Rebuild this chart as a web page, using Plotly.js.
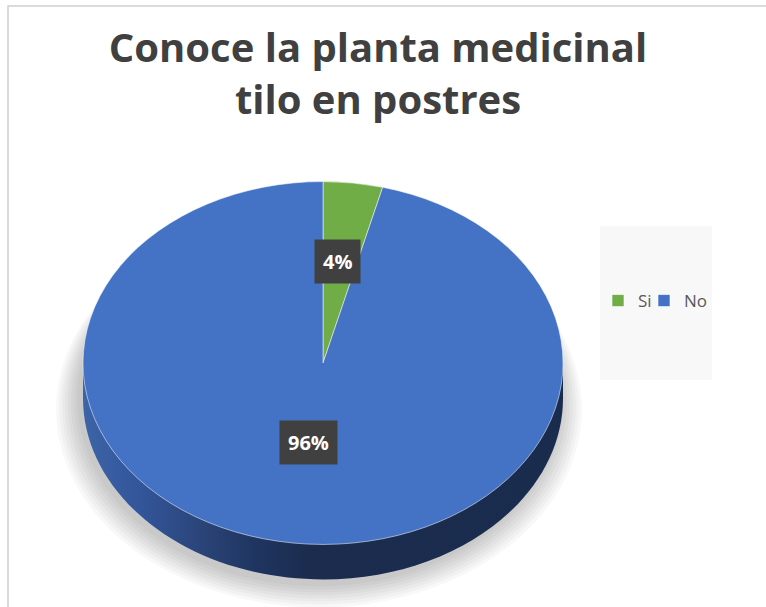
<!DOCTYPE html>
<html><head><meta charset="utf-8">
<script src="https://cdn.plot.ly/plotly-3.0.1.min.js"></script>
<style>html,body{margin:0;padding:0;background:#fff}#chart{width:766px;height:607px}</style>
</head><body><div id="chart"></div>
<script>
// Data
const categories = ['Si', 'No'];
const values = [4, 96];
const pctLabels = ['4%', '96%'];
const colors = ['#70ad47', '#4472c4'];
const titleText = 'Conoce la planta medicinal<br>tilo en postres';

// Geometry (pixels) for the pseudo-3D look
const W = 766, H = 607;
const cx = 323, cy = 363, R = 240, squash = 0.756, depth = 35;
const px = x => x / W, py = y => 1 - y / H;

const ry = R * squash;
const k = 0.5523;
const by = cy + depth;
function P(x, y) { return px(x).toFixed(5) + ',' + py(y).toFixed(5); }
const sidePath = 'M' + P(cx - R, cy) + ' L' + P(cx - R, by) +
  ' C' + P(cx - R, by + k * ry) + ' ' + P(cx - k * R, by + ry) + ' ' + P(cx, by + ry) +
  ' C' + P(cx + k * R, by + ry) + ' ' + P(cx + R, by + k * ry) + ' ' + P(cx + R, by) +
  ' L' + P(cx + R, cy) + ' Z';

const shapes = [];
// soft shadow
const nSh = 8;
for (let i = 0; i < nSh; i++) {
  const g = 2 + i * 3;
  shapes.push({type: 'circle', xref: 'paper', yref: 'paper', layer: 'below',
    x0: px(cx - R - g - 4), x1: px(cx + R + g - 4), y0: py(by + ry + g + 5), y1: py(cy - ry + 30),
    fillcolor: 'rgba(0,0,0,0.028)', line: {width: 0}});
}
shapes.push({type: 'path', path: sidePath, xref: 'paper', yref: 'paper', layer: 'below',
  fillcolor: '#1f3562', line: {width: 0}, name: 'side'});
// legend box
shapes.push({type: 'rect', xref: 'paper', yref: 'paper', layer: 'below',
  x0: px(600), x1: px(712), y0: py(380), y1: py(226), fillcolor: '#f8f8f8', line: {width: 0}});
// chart border
shapes.push({type: 'rect', xref: 'paper', yref: 'paper', layer: 'below',
  x0: px(8), x1: px(820), y0: py(650), y1: py(6), fillcolor: 'rgba(0,0,0,0)',
  line: {color: '#d0d0d0', width: 1.5}});

const trace = {
  type: 'pie', labels: categories, values: values, sort: false,
  direction: 'clockwise', rotation: 0,
  marker: {colors: colors, line: {color: '#ffffff', width: 0.6}},
  textinfo: 'none', hoverinfo: 'none',
  domain: {x: [px(cx - R), px(cx + R)], y: [py(cy + R), py(cy - R)]}
};

const annPos = [[337, 261], [308, 442]];
const annotations = pctLabels.map((t, i) => ({
  text: '<b>' + t + '</b>', xref: 'paper', yref: 'paper', x: px(annPos[i][0]), y: py(annPos[i][1]),
  xanchor: 'center', yanchor: 'middle',
  showarrow: false, bgcolor: '#404040', borderpad: 8,
  font: {family: 'Open Sans, sans-serif', size: 20, color: '#ffffff'}
}));

const layout = {
  width: W, height: H, margin: {l: 0, r: 0, t: 0, b: 0},
  paper_bgcolor: '#ffffff',
  title: {text: '<b>' + titleText + '</b>', x: px(378), xanchor: 'center', y: py(62), yanchor: 'top',
    font: {family: 'Open Sans, sans-serif', size: 40, color: '#404040'}},
  showlegend: true,
  legend: {orientation: 'h', x: px(598), xanchor: 'left', y: py(301), yanchor: 'middle',
    bgcolor: 'rgba(0,0,0,0)', font: {family: 'Open Sans, sans-serif', size: 17, color: '#595959'},
    itemclick: false, entrywidth: 1},
  shapes: shapes, annotations: annotations
};

Plotly.newPlot('chart', [trace], layout, {displayModeBar: false, staticPlot: true}).then(gd => {
  const pl = gd.querySelector('.pielayer');
  if (pl) pl.setAttribute('transform', 'translate(0,' + (cy * (1 - squash)) + ') scale(1,' + squash + ')');
  // let the last legend entry show fully
  gd.querySelectorAll('.legend [clip-path]').forEach(el => el.removeAttribute('clip-path'));
  // gradient for the side
  const svg = gd.querySelector('svg.main-svg');
  const defs = svg.querySelector('defs');
  const NS = 'http://www.w3.org/2000/svg';
  const lg = document.createElementNS(NS, 'linearGradient');
  lg.setAttribute('id', 'sideGrad'); lg.setAttribute('x1', '0'); lg.setAttribute('x2', '1');
  lg.setAttribute('y1', '0'); lg.setAttribute('y2', '0');
  [[0, '#3d64a8'], [0.12, '#33559a'], [0.25, '#2a4478'], [0.36, '#1f3560'], [0.47, '#1b2c4e'], [1, '#1a2c4e']].forEach(s => {
    const st = document.createElementNS(NS, 'stop');
    st.setAttribute('offset', s[0]); st.setAttribute('stop-color', s[1]); lg.appendChild(st);
  });
  defs.appendChild(lg);
  const sp = gd.querySelectorAll('.layer-below .shapelayer path');
  const idx = nSh;
  if (sp[idx]) sp[idx].style.fill = 'url(#sideGrad)';
});
</script></body></html>
